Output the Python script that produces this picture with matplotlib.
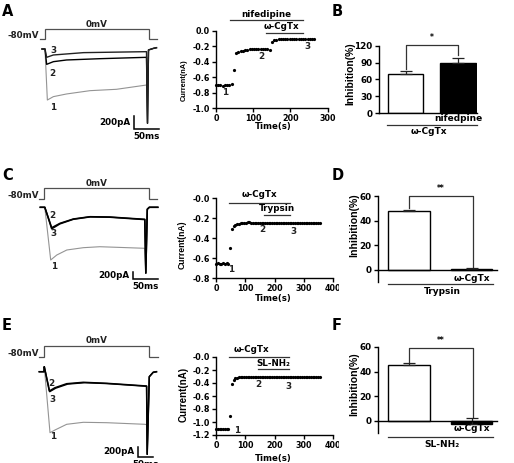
import numpy as np
import matplotlib
matplotlib.use('Agg')
import matplotlib.pyplot as plt
from matplotlib.patches import Rectangle

plt.rcParams['font.family'] = ['DejaVu Sans']
plt.rcParams['font.weight'] = 'bold'
plt.rcParams['axes.linewidth'] = 1.0

W, H = 514, 463
fig = plt.figure(figsize=(W / 100, H / 100), dpi=100)

# ------------------------------------------------------------------ data
# current traces (time in ms, current in pA); 1 = control, 2/3 = after drugs
A_t1 = [-6, 0, 4.7, 16.7, 43, 90, 143, 203, 205, 207, 217, 223]
A_i1 = [0, 0, -785, -733, -692, -641, -620, -554, -1143, -15, 10, 20]
A_t2 = [-6, 0, 3.3, 16.7, 43, 110, 203, 205, 207, 217, 223]
A_i2 = [0, 0, -236, -195, -169, -149, -128, -1143, -15, 10, 20]
A_t3 = [-6, 0, 3.3, 16.7, 77, 203, 205, 207, 217, 223]
A_i3 = [0, 0, -128, -92, -56, -41, -1143, -15, 10, 20]
A_vt = [-10, 0, 0, 208, 208, 224]
A_vv = [-80, -80, 0, 0, -80, -80]

C_t1 = [-8, 1, 12.8, 25, 45, 78, 111, 145, 201, 203, 206, 210, 227]
C_i1 = [0, 0, -1370, -1240, -1110, -1050, -1025, -1040, -1066, -1711, -50, 0, 0]
C_t2 = [-8, 1, 14.8, 31.4, 58, 91.4, 131, 201, 203, 206, 210, 227]
C_i2 = [0, 0, -530, -416, -304, -244, -252, -312, -1711, -50, 0, 0]
C_t3 = [-8, 1, 14.8, 31.4, 58, 91.4, 131, 201, 203, 206, 210, 227]
C_i3 = [0, 0, -560, -430, -312, -250, -258, -320, -1711, -50, 0, 0]
C_vt = [-10.6, 0, 0, 209, 209, 225]
C_vv = [-80, -80, 0, 0, -80, -80]

E_t1 = [-16.7, -1, 0, 19, 35.6, 74.6, 130, 208, 335, 341, 343, 350, 363, 374]
E_i1 = [0, 0, 100, -1220, -1166, -1052, -1012, -1020, -1052, -1060, -1652, -100, -12, 0]
E_t2 = [-16.7, -1, 0, 16.7, 35.6, 74.6, 130, 208, 341, 343, 350, 363, 374]
E_i2 = [0, 0, 100, -386, -320, -240, -212, -232, -286, -1652, -100, -12, 0]
E_t3 = [-16.7, -1, 0, 18, 38, 78, 135, 210, 341, 343, 350, 363, 374]
E_i3 = [0, 0, 100, -400, -330, -248, -220, -238, -292, -1652, -100, -12, 0]
E_vt = [-17.7, 0, 0, 348.5, 348.5, 379.6]
E_vv = [-80, -80, 0, 0, -80, -80]

# time courses (s, nA)
tcA_time = np.arange(45) * 6
tcA_curr = [-0.70, -0.70, -0.70, -0.71, -0.70, -0.70, -0.70, -0.69,
            -0.50, -0.29, -0.27, -0.26, -0.255, -0.25,
            -0.245, -0.24, -0.24, -0.24, -0.24, -0.24, -0.24, -0.24, -0.24, -0.24, -0.245,
            -0.14, -0.12, -0.115,
            -0.11, -0.11, -0.105, -0.105, -0.105, -0.105, -0.105, -0.105, -0.105,
            -0.105, -0.105, -0.105, -0.105, -0.105, -0.105, -0.105, -0.105]
tcC_time = np.arange(60) * 6
tcC_curr = [-0.66, -0.65, -0.66, -0.66, -0.65, -0.66, -0.65, -0.66,
            -0.50, -0.31, -0.28, -0.27, -0.26, -0.255, -0.25, -0.25,
            -0.245, -0.245, -0.24, -0.24, -0.245, -0.245,
            -0.25, -0.25, -0.25, -0.25, -0.25, -0.25, -0.25, -0.25, -0.25, -0.25,
            -0.25, -0.25, -0.25, -0.25, -0.25, -0.25, -0.25, -0.25, -0.25, -0.25,
            -0.25, -0.25, -0.25, -0.25, -0.25, -0.25, -0.25, -0.25, -0.25, -0.25,
            -0.25, -0.25, -0.25, -0.25, -0.25, -0.25, -0.25, -0.25]
tcE_time = np.arange(60) * 6
tcE_curr = [-1.11, -1.11, -1.10, -1.11, -1.11, -1.11, -1.10, -1.11,
            -0.90, -0.42, -0.36, -0.33, -0.32, -0.31,
            -0.305, -0.305, -0.305, -0.305, -0.305, -0.305,
            -0.30, -0.30, -0.30, -0.30, -0.30, -0.30,
            -0.31, -0.31, -0.31, -0.31, -0.31, -0.31, -0.31, -0.31, -0.31, -0.31,
            -0.31, -0.31, -0.31, -0.31, -0.31, -0.31, -0.31, -0.31, -0.31, -0.31,
            -0.31, -0.31, -0.31, -0.31, -0.31, -0.31, -0.31, -0.31, -0.31, -0.31,
            -0.31, -0.31, -0.31, -0.31]

# inhibition bars (%)
B_means = [69, 90]
B_sem = [6, 8]
D_means = [47.8, 1.0]
D_sem = [1.2, 1.0]
F_means = [45.4, -2.5]
F_sem = [1.4, 4.7]

FS_TR = 6.3     # trace texts
FS_TK = 5.8     # time-course ticks
FS_BT = 6.3     # bar ticks
GRAY = '#949494'


def pax(x0, y0, x1, y1):
    return fig.add_axes([x0 / W, 1 - y1 / H, (x1 - x0) / W, (y1 - y0) / H])


def trace_panel(top, bot, t0px, mspp, base_py, papp, vbase_py, mvpp,
                traces, vt, vv, labels, sb_px, sb_py, sb_len_px):
    ax = pax(0, top, 175, bot)
    ax.set_xlim((0 - t0px) * mspp, (175 - t0px) * mspp)
    ax.set_ylim((base_py - bot) * papp, (base_py - top) * papp)
    ax.axis('off')
    axv = pax(0, top, 175, bot)
    axv.set_xlim(ax.get_xlim())
    axv.set_ylim(-80 + (vbase_py - bot) * mvpp, -80 + (vbase_py - top) * mvpp)
    axv.axis('off')
    axv.plot(vt, vv, color='#505050', lw=0.9, solid_joinstyle='miter')
    axv.text((39 - t0px) * mspp, -80 + 1.0 * mvpp, '-80mV', ha='right', va='baseline',
             fontsize=FS_TR, color='#222222')
    axv.text((vt[2] + vt[3]) / 2, 2.5 * mvpp, '0mV', ha='center', va='baseline',
             fontsize=FS_TR, color='#222222')
    for (t, i, c, lw) in traces:
        ax.plot(t, i, color=c, lw=lw)
    for (txt, x, y) in labels:
        ax.text(x, y, txt, ha='center', va='center', fontsize=FS_TR, color='#222222')
    # scale bar
    sx = (sb_px - t0px) * mspp
    sy = (base_py - sb_py) * papp
    ax.plot([sx, sx, sx + 50], [sy + 200, sy, sy], color='black', lw=1.1,
            solid_joinstyle='miter', clip_on=False)
    ax.text(sx - 3.5 * mspp, sy + 100, '200pA', ha='right', va='center', fontsize=FS_TR)
    ax.text(sx + 25, sy - 3.0 * papp, '50ms', ha='center', va='top', fontsize=FS_TR,
            clip_on=False)
    return ax


# ---------------- trace panels
trace_panel(0, 150, 45, 2.0, 49, 200 / 13, 39.3, 8.0,
            [(A_t1, A_i1, GRAY, 0.8), (A_t2, A_i2, 'black', 1.0), (A_t3, A_i3, '#222222', 1.0)],
            A_vt, A_vv,
            [('3', 16.7, -26), ('2', 14.7, -374), ('1', 16.7, -897)],
            134.3, 129, 25)
trace_panel(150, 300, 44.3, 2.0, 207.3, 26.0, 199.3, 7.27,
            [(C_t1, C_i1, GRAY, 0.8), (C_t2, C_i2, 'black', 1.1), (C_t3, C_i3, 'black', 1.1)],
            C_vt, C_vv,
            [('2', 16.8, -226), ('3', 18, -694), ('1', 19.4, -1544)],
            133.3, 279.3, 25)
trace_panel(300, 463, 44.3, 50 / 15, 371.7, 20.0, 357.3, 6.9,
            [(E_t1, E_i1, GRAY, 0.8), (E_t2, E_i2, 'black', 1.1), (E_t3, E_i3, 'black', 1.0)],
            E_vt, E_vv,
            [('2', 24.6, -246), ('3', 28, -546), ('1', 28, -1300)],
            138.3, 456.7, 15)


# ---------------- time courses
def time_course(box, xmax, ymin, yticks, ylabels, t, c, drug, nums, xl_y, yl_pos, yl_fs):
    ax = pax(*box)
    ax.plot(t, c, 'o', color='black', ms=2.3, clip_on=False, mec='none')
    ax.set_xlim(0, xmax)
    ax.set_ylim(ymin, 0)
    ax.set_xticks(np.arange(0, xmax + 1, 100))
    ax.set_yticks(yticks)
    ax.set_yticklabels(ylabels)
    for s in ['top', 'right']:
        ax.spines[s].set_visible(False)
    ax.tick_params(length=3, width=1.0, labelsize=FS_TK, pad=1.5)
    ax.patch.set_alpha(0)
    for (x0, x1, y, txt, tx, ty) in drug:
        ax.plot([x0, x1], [y, y], color='#333333', lw=0.9, clip_on=False)
        ax.text(tx, ty, txt, ha='center', va='center', fontsize=6.3, clip_on=False)
    for (txt, x, y) in nums:
        ax.text(x, y, txt, ha='center', va='center', fontsize=6.3, color='#222222')
    fig.text(273.3 / W, 1 - xl_y / H, 'Time(s)', ha='center', va='center', fontsize=6.2)
    fig.text(yl_pos[0] / W, 1 - yl_pos[1] / H, 'Current(nA)', rotation=90,
             ha='center', va='center', fontsize=yl_fs,
             family=['Liberation Sans', 'DejaVu Sans'])
    return ax


time_course((216, 31, 327.7, 108), 300, -1.0, [0, -0.2, -0.4, -0.6, -0.8, -1.0],
            ['0.0', '-0.2', '-0.4', '-0.6', '-0.8', '-1.0'], tcA_time, tcA_curr,
            [(38, 233, 0.14, 'nifedipine', 134, 0.21), (133, 233, -0.02, 'ω-CgTx', 177, 0.056)],
            [('1', 24, -0.80), ('2', 123, -0.33), ('3', 247, -0.20)], 127, (184, 80), 5.3)
axC = time_course((216, 198, 333, 278), 400, -0.8, [0, -0.2, -0.4, -0.6, -0.8],
                  ['-0.0', '-0.2', '-0.4', '-0.6', '-0.8'], tcC_time, tcC_curr,
                  [(45, 252, -0.05, 'ω-CgTx', 150, 0.037), (165, 252, -0.17, 'Trypsin', 209, -0.105)],
                  [('1', 51, -0.72), ('2', 160, -0.32), ('3', 264, -0.33)], 298.3, (182.5, 245), 6.2)
axE = time_course((216, 357, 333, 435), 400, -1.2, [0, -0.2, -0.4, -0.6, -0.8, -1.0, -1.2],
                  ['-0.0', '-0.2', '-0.4', '-0.6', '-0.8', '-1.0', '-1.2'], tcE_time, tcE_curr,
                  [(45, 250, 0.0, 'ω-CgTx', 122, 0.11), (144, 250, -0.185, 'SL-NH₂', 196, -0.10)],
                  [('1', 71, -1.13), ('2', 145, -0.43), ('3', 247, -0.45)], 459, (184, 394), 7.0)
clip_rect = Rectangle((0, 0), 339 / W, 1, transform=fig.transFigure, visible=False)
fig.add_artist(clip_rect)
for a in (axC, axE):
    lab = a.xaxis.get_major_ticks()[-1].label1
    lab.set_clip_path(clip_rect)


# ---------------- bar charts
def bar_panel(box, c0, c1, ymin, ymax, yticks, means, sems, width, bracket, star,
              sub_label, sub_y, line_y, grp_label, grp_x, grp_y, line_x, zero_line,
              yl_pos, yl_fs):
    ax = pax(*box)
    spacing = c1 - c0
    ax.set_xlim((box[0] - c0) / spacing, (box[2] - c0) / spacing)
    ax.set_ylim(ymin, ymax)
    x = [0, 1]
    ax.bar(x, means, width=width, color=['white', 'black'], edgecolor='black',
           linewidth=1.0, zorder=2)
    for xi, m, s in zip(x, means, sems):
        ax.errorbar([xi], [m], yerr=[[0], [s]], fmt='none', ecolor='#222222',
                    elinewidth=0.9, capsize=4.0, capthick=0.9, zorder=3)
    for s in ['top', 'right']:
        ax.spines[s].set_visible(False)
    ax.set_xticks([])
    ax.set_yticks(yticks)
    ax.tick_params(axis='y', length=3, width=1.0, labelsize=FS_BT, pad=1.5)
    if zero_line:
        ax.spines['bottom'].set_visible(False)
        ax.plot([ax.get_xlim()[0], line_x[2]], [0, 0], color='black', lw=1.0,
                clip_on=False, zorder=4)
    ax.patch.set_alpha(0)
    bx0, by0, bx1, by1, btop = bracket
    ax.plot([bx0, bx0, bx1, bx1], [by0, btop, btop, by1], color='#333333', lw=0.9,
            clip_on=False)
    ax.text((bx0 + bx1) / 2, star[1], star[0], ha='center', va='center', fontsize=5.5,
            clip_on=False)
    ax.text(1, sub_y, sub_label, ha='center', va='center', fontsize=6.5, clip_on=False)
    ax.plot([line_x[0], line_x[1]], [line_y, line_y], color='#333333', lw=0.9, clip_on=False)
    ax.text(grp_x, grp_y, grp_label, ha='center', va='center', fontsize=6.5, clip_on=False)
    fig.text(yl_pos[0] / W, 1 - yl_pos[1] / H, 'Inhibition(%)', rotation=90,
             ha='center', va='center', fontsize=yl_fs,
             family=['Liberation Sans', 'DejaVu Sans'])
    return ax


bar_panel((379, 45.7, 477, 113.3), 405.5, 458, 0, 120, [0, 30, 60, 90, 120],
          B_means, B_sem, 0.68, (0, 79, 1, 103, 121), ('*', 134),
          'nifedpine', -8.5, -20.8, 'ω-CgTx', 0.448, -32.7, (-0.352, 1.362, 1.362), False,
          (350.5, 74), 7.4)
bar_panel((378, 196, 497, 281.7), 409, 471.5, -9.5, 60, [0, 20, 40, 60],
          D_means, D_sem, 0.67, (0, 50.5, 1.02, 2.5, 60), ('**', 66),
          'ω-CgTx', -6.5, -11.6, 'Trypsin', 0.528, -17.8, (-0.336, 1.344, 1.40), True,
          (354, 225), 7.6)
bar_panel((378, 347, 497, 433.3), 409, 471.5, -10, 60, [0, 20, 40, 60],
          F_means, F_sem, 0.67, (0, 48, 1.02, 3, 59), ('**', 65.5),
          'ω-CgTx', -6.5, -12.7, 'SL-NH₂', 0.528, -19, (-0.336, 1.344, 1.40), True,
          (354, 384), 7.6)

# panel letters
for txt, x, y in [('A', 8, 12), ('B', 337, 11), ('C', 8, 175), ('D', 338, 175),
                  ('E', 7, 326), ('F', 337, 325)]:
    fig.text(x / W, 1 - y / H, txt, ha='center', va='center', fontsize=10.5,
             fontweight='bold')

fig.savefig('out.png', dpi=100)
